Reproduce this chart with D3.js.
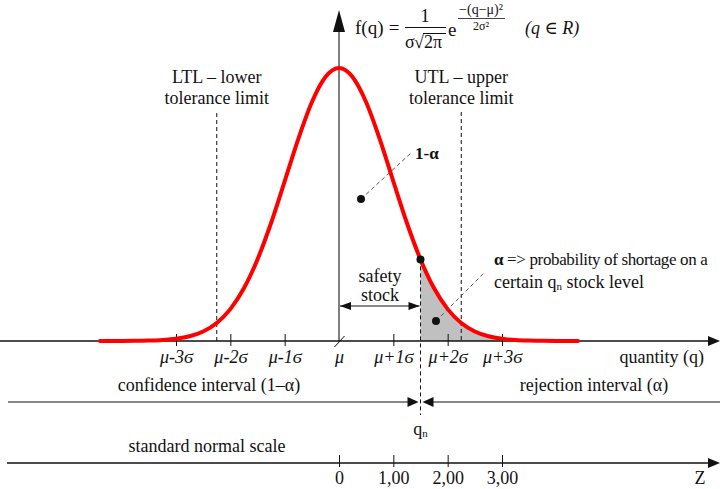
<!DOCTYPE html>
<html><head><meta charset="utf-8">
<script src="https://cdn.jsdelivr.net/npm/d3@7"></script>
<style>
html,body{margin:0;padding:0;background:#fff;}
svg text{font-family:"Liberation Serif","DejaVu Serif",serif;fill:#111;}
</style></head>
<body>
<svg id="c" width="720" height="489" font-family="Liberation Serif, DejaVu Serif, serif"></svg>
<script>
// ---- data ----
const curveZ = [-4.4,-4.25,-4,-3.75,-3.5,-3.25,-3,-2.75,-2.5,-2.25,-2,-1.75,-1.5,-1.25,-1,-0.75,-0.5,-0.25,0,0.25,0.5,0.75,1,1.25,1.5,1.75,2,2.25,2.5,2.75,3,3.25,3.5,3.75,4,4.25,4.4];
const curveF = [0,0,0.0001,0.0002,0.0006,0.0014,0.0032,0.0069,0.0139,0.0263,0.0466,0.0770,0.1192,0.1724,0.2332,0.2949,0.3488,0.3857,0.3989,0.3857,0.3488,0.2949,0.2332,0.1724,0.1192,0.0770,0.0466,0.0263,0.0139,0.0069,0.0032,0.0014,0.0006,0.0002,0.0001,0,0];
const qTicks = [-3,-2,-1,0,1,2,3];
const qTickLabels = ["μ-3ϭ","μ-2ϭ","μ-1ϭ","μ","μ+1ϭ","μ+2ϭ","μ+3ϭ"];
const zTicks = [0,1,2,3];
const zTickLabels = ["0","1,00","2,00","3,00"];
const qn = 1.5;
const ltl = -2.25, utl = 2.25;
const pointOneMinusAlpha = [0.405, 0.2075]; // dot position (z, f)
const pointAlpha = [1.785, 0.0292];

const FONT = "'Liberation Serif','DejaVu Serif',serif";
const svg = d3.select("#c");
const x = d3.scaleLinear().domain([-3,3]).range([176,502]);
const y = d3.scaleLinear().domain([0,0.3989]).range([341,68]);
const axisY = 341, confY = 402, zAxisY = 463;

function T(xx,yy,txt,size){
  return svg.append("text").attr("x",xx).attr("y",yy).style("font-family",FONT).style("font-size",(size||18)+"px").text(txt);
}

// gray alpha area
const pts = curveZ.map((z,i)=>[z,curveF[i]]);
const fqn = 0.1192;
const areaPts = [[qn,fqn]].concat(pts.filter(p=>p[0]>qn));
svg.append("path")
  .datum(areaPts)
  .attr("d", d3.area().x(d=>x(d[0])).y0(y(0)).y1(d=>y(d[1])).curve(d3.curveMonotoneX))
  .attr("fill","#c0c0c0");

function dashed(x1,y1,x2,y2,col){
  svg.append("line").attr("x1",x1).attr("y1",y1).attr("x2",x2).attr("y2",y2)
    .attr("stroke",col||"#111").attr("stroke-width",1).attr("stroke-dasharray","4,3");
}
dashed(x(ltl),113,x(ltl),axisY);
dashed(x(utl),112,x(utl),axisY);
dashed(x(qn),y(fqn),x(qn),415);

// vertical axis
svg.append("line").attr("x1",x(0)).attr("x2",x(0)).attr("y1",axisY).attr("y2",30)
  .attr("stroke","#555").attr("stroke-width",1.5);
svg.append("path").attr("d",`M${x(0)},10 L${x(0)-6},32 L${x(0)+6},32 Z`).attr("fill","#111");

function hArrowAxis(yy,x0){
  svg.append("line").attr("x1",x0).attr("x2",712).attr("y1",yy).attr("y2",yy)
    .attr("stroke","#111").attr("stroke-width",1.5);
  svg.append("path").attr("d",`M720,${yy} L708,${yy-5} L708,${yy+5} Z`).attr("fill","#111");
}
hArrowAxis(axisY,0);

const qAxis = d3.axisBottom(x).tickValues(qTicks).tickFormat((d,i)=>qTickLabels[i]).tickSize(0).tickPadding(0);
const gq = svg.append("g").attr("transform",`translate(0,${axisY})`).call(qAxis);
gq.select(".domain").remove();
gq.selectAll(".tick line").attr("y1",-7).attr("y2",5).attr("stroke","#111").attr("stroke-width",1)
  .filter(d=>d===0).attr("y1",6).attr("y2",-5).attr("x1",-5).attr("x2",5);
gq.selectAll(".tick text").attr("y",22).attr("dy",0)
  .style("font-family",FONT).style("font-style","italic")
  .style("font-size","18px").attr("fill","#1b1b2b");

T(704,363,"quantity (q)").attr("text-anchor","end");

// normal curve
svg.append("path").datum(pts)
  .attr("d", d3.line().x(d=>x(d[0])).y(d=>y(d[1])).curve(d3.curveMonotoneX))
  .attr("fill","none").attr("stroke","#ff0000").attr("stroke-width",4).attr("stroke-linecap","round");

// dots and leaders
dashed(x(pointOneMinusAlpha[0]), y(pointOneMinusAlpha[1]), 411, 153, "#555");
svg.append("circle").attr("cx",x(pointOneMinusAlpha[0])).attr("cy",y(pointOneMinusAlpha[1])).attr("r",4).attr("fill","#111");
dashed(x(pointAlpha[0]), y(pointAlpha[1]), 484, 273, "#555");
svg.append("circle").attr("cx",x(pointAlpha[0])).attr("cy",y(pointAlpha[1])).attr("r",4).attr("fill","#111");
svg.append("circle").attr("cx",x(qn)).attr("cy",y(fqn)).attr("r",4).attr("fill","#111");

T(415,159,"1-α",17).style("font-weight","bold");

// alpha annotation
const ta = T(494,265,"",17).style("letter-spacing","-0.35px");
ta.append("tspan").style("font-weight","bold").text("α");
ta.append("tspan").text(" => probability of shortage on a");
const tb = T(494,288,"");
tb.append("tspan").text("certain q");
tb.append("tspan").style("font-size","11px").attr("dy",2).text("n");
tb.append("tspan").attr("dy",-2).text(" stock level");

// safety stock
T(380,282,"safety").attr("text-anchor","middle");
T(380,301,"stock").attr("text-anchor","middle");
const ssY = 306;
svg.append("line").attr("x1",x(0)+1).attr("x2",x(qn)-1).attr("y1",ssY).attr("y2",ssY).attr("stroke","#111").attr("stroke-width",1.2);
svg.append("path").attr("d",`M${x(0)+1},${ssY} L${x(0)+12},${ssY-4} L${x(0)+12},${ssY+4} Z`).attr("fill","#111");
svg.append("path").attr("d",`M${x(qn)-1},${ssY} L${x(qn)-12},${ssY-4} L${x(qn)-12},${ssY+4} Z`).attr("fill","#111");

// tolerance labels
[[ltl,"LTL – lower"],[utl,"UTL – upper"]].forEach(([v,t])=>{
  T(x(v),83,t).attr("text-anchor","middle");
  T(x(v),104,"tolerance limit").attr("text-anchor","middle");
});

// confidence / rejection row
const xq = x(qn);
svg.append("line").attr("x1",8).attr("x2",xq-6).attr("y1",confY).attr("y2",confY).attr("stroke","#111").attr("stroke-width",1.2);
svg.append("path").attr("d",`M${xq-2},${confY} L${xq-13},${confY-5} L${xq-13},${confY+5} Z`).attr("fill","#111");
svg.append("line").attr("x1",xq+6).attr("x2",720).attr("y1",confY).attr("y2",confY).attr("stroke","#111").attr("stroke-width",1.2);
svg.append("path").attr("d",`M${xq+2},${confY} L${xq+13},${confY-5} L${xq+13},${confY+5} Z`).attr("fill","#111");
T(209,391,"confidence interval (1–α)").attr("text-anchor","middle");
T(594,391,"rejection interval (α)").attr("text-anchor","middle");

const tq = T(xq,435,"").attr("text-anchor","middle");
tq.append("tspan").text("q");
tq.append("tspan").style("font-size","11px").attr("dy",2).text("n");

// standard normal scale
hArrowAxis(zAxisY,7);
const zAxis = d3.axisBottom(x).tickValues(zTicks).tickFormat((d,i)=>zTickLabels[i]).tickSize(0).tickPadding(0);
const gz = svg.append("g").attr("transform",`translate(0,${zAxisY})`).call(zAxis);
gz.select(".domain").remove();
gz.selectAll(".tick line").attr("y1",-8).attr("y2",4).attr("stroke","#111").attr("stroke-width",1);
gz.selectAll(".tick text").attr("y",21).attr("dy",0)
  .style("font-family",FONT).style("font-size","18px").attr("fill","#1b1b2b");
T(207,452,"standard normal scale").attr("text-anchor","middle");
T(700,484,"Z").attr("text-anchor","middle");

// formula
T(355,34,"f(q)",19);
T(394,34,"=",19).attr("text-anchor","middle");
T(425,22,"1",18).attr("text-anchor","middle");
svg.append("line").attr("x1",405).attr("x2",446).attr("y1",27.5).attr("y2",27.5).attr("stroke","#111").attr("stroke-width",1);
T(405,48,"σ",18);
T(414,48,"√",18);
svg.append("line").attr("x1",423).attr("x2",446).attr("y1",33.5).attr("y2",33.5).attr("stroke","#111").attr("stroke-width",1);
T(424,48,"2π",18);
T(448,36,"e",19);
T(481,14,"−(q−μ)²",14).attr("text-anchor","middle");
svg.append("line").attr("x1",458).attr("x2",505).attr("y1",18.5).attr("y2",18.5).attr("stroke","#111").attr("stroke-width",0.8);
T(481,30,"2σ²",12).attr("text-anchor","middle");
T(525,34,"(q ∈ R)",18).style("font-style","italic");
</script>
</body></html>
